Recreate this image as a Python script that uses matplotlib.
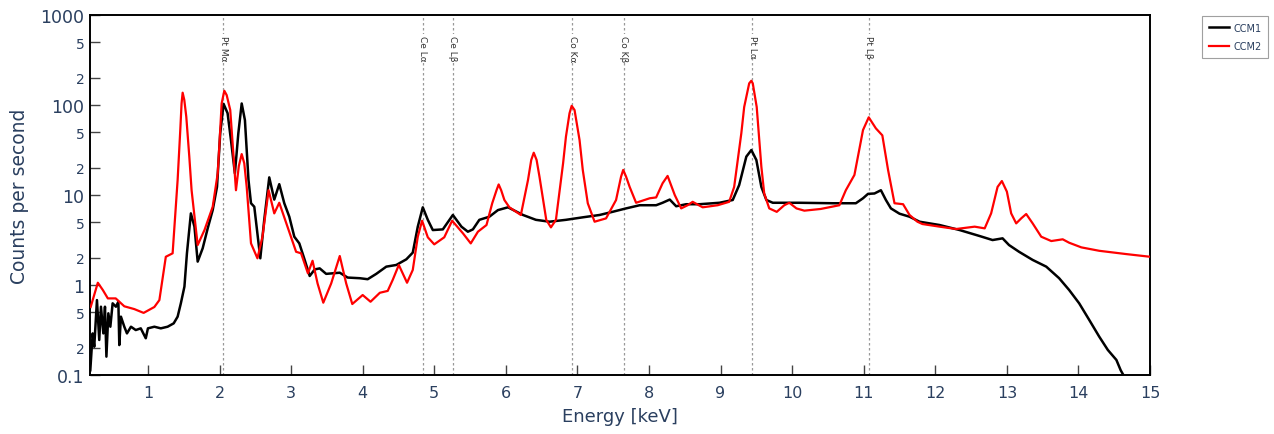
import matplotlib.pyplot as plt
from matplotlib.ticker import FixedLocator, FixedFormatter

# CCM1 spectrum (black)
energy_ccm1 = [0.195, 0.228, 0.25, 0.288, 0.32, 0.344, 0.377, 0.40, 0.42, 0.447, 0.475, 0.507,
               0.553, 0.587, 0.60, 0.623, 0.67, 0.707, 0.763, 0.83, 0.90, 0.97, 1.0, 1.09,
               1.18, 1.275, 1.36, 1.415, 1.46, 1.51, 1.545, 1.60, 1.65, 1.695, 1.765, 1.835,
               1.905, 1.965, 2.01, 2.057, 2.113, 2.16, 2.215, 2.263, 2.31, 2.355, 2.405, 2.44,
               2.486, 2.57, 2.625, 2.695, 2.765, 2.835, 2.905, 2.975, 3.045, 3.115, 3.19, 3.26,
               3.33, 3.40, 3.49, 3.68, 3.79, 3.96, 4.07, 4.19, 4.33, 4.47, 4.61, 4.70,
               4.77, 4.84, 4.91, 4.98, 5.12, 5.26, 5.38, 5.47, 5.54, 5.63, 5.77, 5.89,
               6.03, 6.24, 6.42, 6.61, 6.84, 7.075, 7.31, 7.49, 7.68, 7.87, 8.10, 8.19,
               8.29, 8.38, 8.52, 8.705, 8.985, 9.17, 9.26, 9.36, 9.43, 9.50, 9.57, 9.64,
               9.73, 10.10, 10.57, 10.89, 10.99, 11.06, 11.15, 11.24, 11.31, 11.38, 11.50, 11.64,
               11.78, 12.06, 12.34, 12.62, 12.80, 12.94, 13.03, 13.17, 13.36, 13.55, 13.73, 13.87,
               14.01, 14.15, 14.29, 14.41, 14.53, 14.59, 14.64]
counts_ccm1 = [0.113, 0.29, 0.206, 0.68, 0.245, 0.574, 0.29, 0.574, 0.16, 0.485, 0.344, 0.626,
               0.574, 0.652, 0.215, 0.445, 0.344, 0.29, 0.344, 0.316, 0.33, 0.256, 0.33, 0.344,
               0.33, 0.344, 0.375, 0.445, 0.626, 0.96, 2.25, 6.25, 4.45, 1.82, 2.56, 4.26,
               6.8, 12.3, 48.5, 103, 81, 40.8, 17.4, 48.5, 104, 68, 14.7, 8.1,
               7.4, 1.98, 5.3, 15.7, 8.9, 13.2, 8.1, 5.74, 3.44, 2.9, 1.9, 1.26,
               1.49, 1.53, 1.33, 1.37, 1.21, 1.19, 1.16, 1.33, 1.6, 1.67, 1.93, 2.29,
               4.45, 7.3, 5.3, 4.08, 4.15, 6.0, 4.45, 3.91, 4.15, 5.3, 5.74, 6.8,
               7.3, 6.0, 5.3, 5.05, 5.3, 5.65, 6.0, 6.5, 7.1, 7.7, 7.7, 8.2,
               8.9, 7.5, 7.9, 7.9, 8.2, 8.8, 12.9, 26.7, 31.6, 24.5, 12.3, 8.8,
               8.2, 8.2, 8.1, 8.1, 9.2, 10.3, 10.4, 11.3, 8.8, 7.1, 6.2, 5.74,
               5.05, 4.64, 4.08, 3.5, 3.16, 3.3, 2.78, 2.34, 1.9, 1.6, 1.19, 0.88,
               0.626, 0.41, 0.267, 0.19, 0.147, 0.113, 0.096]

# CCM2 spectrum (red)
energy_ccm2 = [0.20, 0.30, 0.37, 0.44, 0.55, 0.67, 0.81, 0.94, 1.09, 1.16, 1.25, 1.345,
               1.415, 1.452, 1.47, 1.485, 1.508, 1.536, 1.578, 1.61, 1.695, 1.79, 1.905, 1.975,
               1.997, 2.03, 2.067, 2.10, 2.15, 2.187, 2.23, 2.27, 2.31, 2.346, 2.38, 2.44,
               2.53, 2.60, 2.686, 2.765, 2.835, 2.95, 3.07, 3.14, 3.235, 3.30, 3.37, 3.45,
               3.56, 3.68, 3.77, 3.855, 4.0, 4.11, 4.24, 4.35, 4.42, 4.505, 4.62, 4.70,
               4.77, 4.83, 4.91, 5.0, 5.14, 5.25, 5.40, 5.51, 5.61, 5.73, 5.81, 5.87,
               5.90, 5.935, 5.98, 6.05, 6.21, 6.31, 6.355, 6.39, 6.43, 6.47, 6.565, 6.63,
               6.70, 6.80, 6.84, 6.89, 6.92, 6.96, 7.03, 7.075, 7.145, 7.24, 7.40, 7.54,
               7.61, 7.64, 7.68, 7.73, 7.82, 8.01, 8.10, 8.19, 8.26, 8.36, 8.45, 8.54,
               8.61, 8.75, 8.96, 9.12, 9.19, 9.29, 9.33, 9.40, 9.43, 9.45, 9.505, 9.57,
               9.61, 9.68, 9.785, 9.89, 9.96, 10.06, 10.17, 10.4, 10.66, 10.75, 10.87, 10.99,
               11.07, 11.17, 11.26, 11.34, 11.43, 11.55, 11.64, 11.75, 11.82, 12.06, 12.29, 12.55,
               12.69, 12.78, 12.87, 12.93, 13.0, 13.06, 13.13, 13.20, 13.27, 13.36, 13.48, 13.62,
               13.78, 13.87, 14.04, 14.29, 14.66, 15.0]
counts_ccm2 = [0.57, 1.06, 0.88, 0.71, 0.71, 0.58, 0.54, 0.49, 0.57, 0.68, 2.06, 2.25,
               14.7, 52.7, 104, 137, 114, 74, 26.7, 11.3, 2.78, 4.08, 7.4, 17.4,
               34.4, 104, 144, 129, 88, 34.4, 11.3, 21, 28.5, 22.5, 12.3, 2.9,
               1.98, 3.44, 11.3, 6.25, 8.2, 4.45, 2.34, 2.25, 1.35, 1.86, 1.04, 0.636,
               1.04, 2.1, 1.04, 0.615, 0.774, 0.652, 0.82, 0.86, 1.14, 1.67, 1.06, 1.47,
               3.44, 5.18, 3.39, 2.83, 3.39, 5.18, 3.76, 2.9, 3.91, 4.64, 8.1, 11.3,
               13.1, 11.3, 8.8, 7.3, 6.0, 14.7, 24.5, 29.5, 24.5, 16.0, 5.3, 4.37,
               5.3, 22.5, 44.5, 81, 98, 88, 40.8, 19, 8.1, 5.05, 5.5, 8.8,
               16, 19.0, 16, 12.3, 8.2, 9.2, 9.4, 13.5, 16.3, 10.0, 7.1, 7.7,
               8.4, 7.3, 7.7, 8.4, 12.3, 48.5, 95, 174, 186, 174, 95, 20.6,
               10.4, 7.1, 6.5, 7.7, 8.2, 7.1, 6.7, 7.0, 7.7, 11.3, 16.7, 52.7,
               73, 55, 46, 19, 8.1, 7.9, 6.0, 5.05, 4.76, 4.45, 4.19, 4.45,
               4.26, 6.25, 12.3, 14.3, 10.9, 6.25, 4.84, 5.5, 6.15, 4.84, 3.44, 3.08,
               3.22, 2.95, 2.62, 2.4, 2.21, 2.06]

# emission lines
line_names = ['Pt M\u03b1', 'Ce L\u03b1', 'Ce L\u03b2', 'Co K\u03b1', 'Co K\u03b2', 'Pt L\u03b1', 'Pt L\u03b2']
line_energies = [2.05, 4.84, 5.26, 6.93, 7.65, 9.44, 11.07]

txt_color = '#2a3f5f'

fig = plt.figure(figsize=(12.74, 4.35), dpi=100)
ax = fig.add_axes([0.0706, 0.1356, 0.8321, 0.8276])

for name, e in zip(line_names, line_energies):
    ax.axvline(e, color='#999999', linestyle=(0, (2, 2)), linewidth=0.9, zorder=1)
    ax.text(e, 0.945, name, transform=ax.get_xaxis_transform(), rotation=-90,
            ha='center', va='top', fontsize=6.5, color='#333333', zorder=2,
            bbox=dict(facecolor='white', edgecolor='none', pad=0.5))

ax.plot(energy_ccm1, counts_ccm1, color='black', linewidth=1.8, label='CCM1', zorder=3)
ax.plot(energy_ccm2, counts_ccm2, color='#ff0000', linewidth=1.6, label='CCM2', zorder=4)

ax.set_yscale('log')
ax.set_xlim(0.19, 15)
ax.set_ylim(0.1, 1000)

ax.set_xticks(range(1, 16))
ax.yaxis.set_major_locator(FixedLocator([0.1, 1, 10, 100, 1000]))
ax.yaxis.set_major_formatter(FixedFormatter(['0.1', '1', '10', '100', '1000']))
minor_pos = [0.2, 0.5, 2, 5, 20, 50, 200, 500]
ax.yaxis.set_minor_locator(FixedLocator(minor_pos))
ax.yaxis.set_minor_formatter(FixedFormatter(['2', '5'] * 4))

ax.tick_params(axis='both', which='both', direction='in', length=7, width=1,
               color='#444444', labelcolor=txt_color)
ax.tick_params(axis='y', which='major', labelsize=12.5, pad=4)
ax.tick_params(axis='y', which='minor', labelsize=10, pad=4)
ax.tick_params(axis='x', which='major', labelsize=11.5, pad=7)
ax.tick_params(axis='x', which='minor', bottom=False)

for sp in ax.spines.values():
    sp.set_linewidth(1.4)
    sp.set_color('black')

ax.set_xlabel('Energy [keV]', fontsize=13, color=txt_color, labelpad=5)
ax.set_ylabel('Counts per second', fontsize=13.5, color=txt_color, labelpad=8)

leg = fig.legend(loc='upper left', bbox_to_anchor=(0.9435, 0.961), fontsize=7,
                 frameon=True, fancybox=False, handlelength=2.1, borderpad=0.7,
                 labelspacing=0.85, handletextpad=0.4, borderaxespad=0)
leg.get_frame().set_edgecolor('#888888')
leg.get_frame().set_linewidth(0.8)
for t in leg.get_texts():
    t.set_color(txt_color)

plt.savefig('out.png', dpi=100)
plt.close()
